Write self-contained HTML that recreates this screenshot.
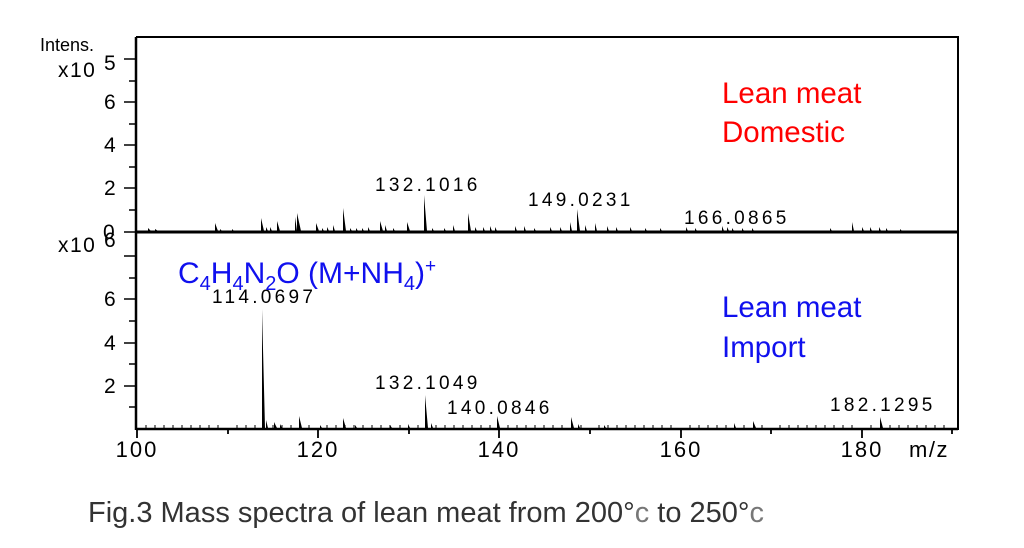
<!DOCTYPE html>
<html><head><meta charset="utf-8"><style>
html,body{margin:0;padding:0;background:#fff;}
svg{display:block;}
</style></head><body>
<svg width="1024" height="548" viewBox="0 0 1024 548" xmlns="http://www.w3.org/2000/svg" font-family="'Liberation Sans', sans-serif">
<rect width="1024" height="548" fill="#fff"/>
<g stroke="#000" fill="none">
<path d="M136 37 H958 V430" stroke-width="2"/>
<line x1="136" y1="37" x2="136" y2="430" stroke-width="2.5"/>
<line x1="136" y1="232" x2="958" y2="232" stroke-width="3"/>
<line x1="136" y1="429" x2="958" y2="429" stroke-width="2.5"/>
<path d="M124 59H136M129 81H136M124 102H136M129 124H136M124 145H136M129 167H136M124 188H136M129 210H136M124 232H136" stroke-width="1.5"/>
<path d="M124 256H136M129 278H136M124 299H136M129 321H136M124 343H136M129 364H136M124 386H136M129 407H136" stroke-width="1.5"/>
<path d="M137 429V438M228 429V434M318 429V438M409 429V434M499 429V438M590 429V434M681 429V438M771 429V434M862 429V438M952 429V434" stroke-width="1.8"/>
</g>
<g stroke="#000" stroke-width="1">
<path d="M146 428V425M155 428V425M164 428V425M173 428V425M182 428V425M191 428V425M200 428V425M209 428V425M218 428V425M237 428V425M246 428V425M255 428V425M273 428V425M282 428V425M291 428V425M309 428V425M327 428V425M336 428V425M345 428V425M354 428V425M363 428V425M372 428V425M381 428V425M390 428V425M400 428V425M418 428V425M436 428V425M445 428V425M454 428V425M463 428V425M472 428V425M481 428V425M490 428V425M508 428V425M517 428V425M526 428V425M535 428V425M544 428V425M553 428V425M562 428V425M581 428V425M599 428V425M608 428V425M617 428V425M626 428V425M635 428V425M644 428V425M653 428V425M662 428V425M671 428V425M690 428V425M699 428V425M708 428V425M717 428V425M726 428V425M744 428V425M762 428V425M780 428V425M789 428V425M798 428V425M807 428V425M816 428V425M825 428V425M834 428V425M843 428V425M852 428V425M871 428V425M890 428V425M899 428V425M908 428V425M917 428V425M926 428V425M935 428V425M944 428V425"/>
</g>
<g fill="#000">
<path d="M148 231V228L151 231ZM155 231V229L158 231ZM215 231V223L218 231ZM220 231V229L222 231ZM232 231V229L234 231ZM261 231V218L264 231ZM266 231V227L268 231ZM270 231V227L272 231ZM277 231V221L280 231ZM295 231V217L297 231ZM297 231V213L301 231ZM316 231V223L319 231ZM322 231V228L324 231ZM327 231V227L329 231ZM333 231V225L335 231ZM343 231V208L346 231ZM350 231V228L352 231ZM356 231V228L358 231ZM362 231V228L364 231ZM368 231V227L370 231ZM380 231V221L383 231ZM385 231V225L387 231ZM393 231V228L395 231ZM407 231V222L410 231ZM424 231V195L427 231ZM432 231V228L434 231ZM444 231V228L446 231ZM453 231V225L455 231ZM468 231V213L471 231ZM475 231V227L477 231ZM483 231V227L485 231ZM490 231V226L492 231ZM495 231V227L497 231ZM515 231V226L517 231ZM524 231V226L526 231ZM534 231V228L536 231ZM550 231V227L552 231ZM560 231V227L562 231ZM570 231V222L572 231ZM577 231V209L580 231ZM585 231V225L587 231ZM595 231V223L597 231ZM607 231V226L609 231ZM616 231V227L618 231ZM630 231V227L632 231ZM645 231V228L647 231ZM660 231V228L662 231ZM686 231V227L688 231ZM695 231V228L697 231ZM722 231V226L724 231ZM727 231V227L729 231ZM732 231V228L734 231ZM742 231V228L744 231ZM752 231V228L754 231ZM830 231V228L832 231ZM852 231V222L854 231ZM862 231V227L864 231ZM870 231V227L872 231ZM879 231V227L881 231ZM886 231V228L888 231ZM900 231V229L902 231Z"/>
</g>
<g fill="#000">
<path d="M262 428V309L265 428ZM266 428V420L268 428ZM274 428V422L277 428ZM280 428V424L282 428ZM299 428V416L302 428ZM320 428V425L322 428ZM343 428V418L346 428ZM355 428V425L357 428ZM390 428V425L392 428ZM408 428V424L410 428ZM425 428V395L428 428ZM431 428V423L433 428ZM497 428V416L500 428ZM571 428V417L574 428ZM578 428V424L580 428ZM604 428V425L606 428ZM734 428V423L736 428ZM753 428V421L756 428ZM880 428V417L883 428Z"/>
</g>
<g font-size="21" fill="#000" letter-spacing="1.5">
<text x="40" y="51" font-size="18" letter-spacing="0">Intens.</text>
<text x="58" y="77">x10</text><text x="104" y="70">5</text>
<text x="58" y="252">x10</text><text x="104" y="247">6</text>
<text x="103" y="239">0</text>
<text x="104" y="109">6</text><text x="104" y="152">4</text><text x="104" y="195">2</text>
<text x="104" y="306">6</text><text x="104" y="350">4</text><text x="104" y="393">2</text>
<text x="137" y="457" text-anchor="middle" font-size="22" letter-spacing="2">100</text>
<text x="318" y="457" text-anchor="middle" font-size="22" letter-spacing="2">120</text>
<text x="499" y="457" text-anchor="middle" font-size="22" letter-spacing="2">140</text>
<text x="681" y="457" text-anchor="middle" font-size="22" letter-spacing="2">160</text>
<text x="862" y="457" text-anchor="middle" font-size="22" letter-spacing="2">180</text>
<text x="909" y="457" font-size="22">m/z</text>
</g>
<g font-size="19" fill="#000" letter-spacing="3.3">
<text x="375" y="191">132.1016</text>
<text x="528" y="206">149.0231</text>
<text x="684" y="224">166.0865</text>
<text x="212" y="303">114.0697</text>
<text x="375" y="389">132.1049</text>
<text x="447" y="414">140.0846</text>
<text x="830" y="411">182.1295</text>
</g>
<g font-size="29.5">
<text x="722" y="103" fill="#ff0000">Lean meat</text>
<text x="722" y="142" fill="#ff0000">Domestic</text>
<text x="722" y="317" fill="#1010ee">Lean meat</text>
<text x="722" y="357" fill="#1010ee">Import</text>
<text x="178" y="283" font-size="30" fill="#1010ee">C<tspan font-size="20" dy="7">4</tspan><tspan dy="-7">H</tspan><tspan font-size="20" dy="7">4</tspan><tspan dy="-7">N</tspan><tspan font-size="20" dy="7">2</tspan><tspan dy="-7">O (M+NH</tspan><tspan font-size="20" dy="7">4</tspan><tspan dy="-7">)</tspan><tspan font-size="19" dy="-11">+</tspan></text>
</g>
<text x="88" y="522" font-size="29" fill="#333">Fig.3 Mass spectra of lean meat from 200°<tspan fill="#777">c</tspan> to 250°<tspan fill="#777">c</tspan></text>
</svg>
</body></html>
